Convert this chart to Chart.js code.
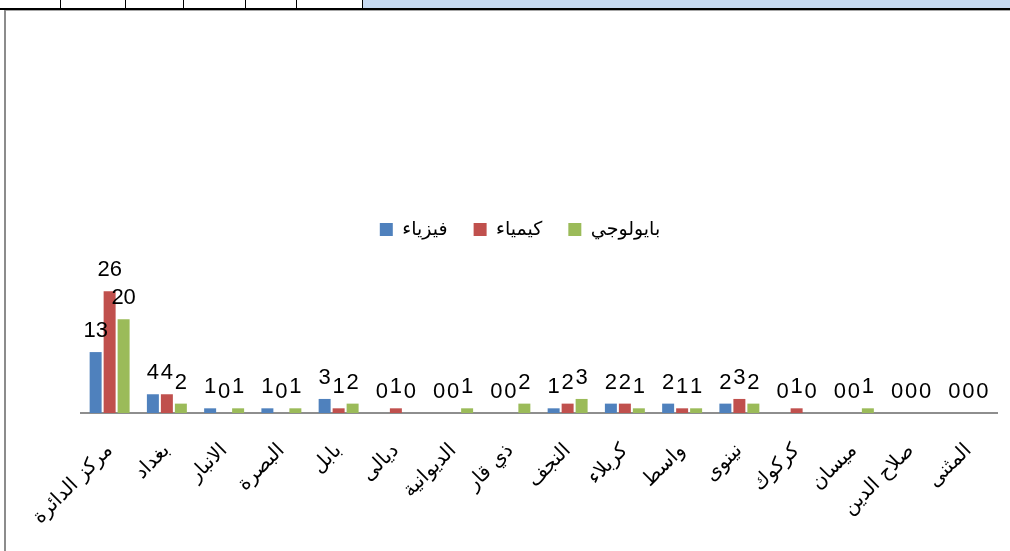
<!DOCTYPE html>
<html>
<head>
<meta charset="utf-8">
<script src="https://cdn.jsdelivr.net/npm/chart.js@4"></script>
<style>
  body { margin: 0; background: #fff; }
  #wrap { position: relative; width: 1010px; height: 551px; overflow: hidden; }
  #hdr { position: absolute; left: 0; top: 0; width: 1010px; height: 8px; }
  .cell { position: absolute; top: 0; height: 8px; border-left: 1px solid #000; }
  #blue { position: absolute; left: 363px; top: 0; width: 647px; height: 8px; background: #c6d9f1; }
  #hline { position: absolute; left: 0; top: 8px; width: 1010px; height: 2px; background: #000; }
  #gline { position: absolute; left: 4px; top: 10px; width: 1006px; height: 1px; background: #a6a6a6; }
  #vline { position: absolute; left: 4px; top: 10px; width: 2px; height: 541px; background: #8c8c8c; }
  canvas { position: absolute; left: 0; top: 0; }
</style>
</head>
<body>
<div id="wrap">
  <div id="hdr">
    <div id="blue"></div>
    <div class="cell" style="left:60px"></div>
    <div class="cell" style="left:125px"></div>
    <div class="cell" style="left:183px"></div>
    <div class="cell" style="left:245px"></div>
    <div class="cell" style="left:296px"></div>
    <div class="cell" style="left:362px"></div>
  </div>
  <div id="hline"></div>
  <div id="gline"></div>
  <div id="vline"></div>
  <canvas id="myChart" width="1010" height="551"></canvas>
</div>
<script>
const categories = ['مركز الدائرة', 'بغداد', 'الانبار', 'البصرة', 'بابل', 'ديالى', 'الديوانية', 'ذي قار',
  'النجف', 'كربلاء', 'واسط', 'نينوى', 'كركوك', 'ميسان', 'صلاح الدين', 'المثنى'];
const physics   = [13, 4, 1, 1, 3, 0, 0, 0, 1, 2, 2, 2, 0, 0, 0, 0];
const chemistry = [26, 4, 0, 0, 1, 1, 0, 0, 2, 2, 1, 3, 1, 0, 0, 0];
const biology   = [20, 2, 1, 1, 2, 0, 1, 2, 3, 1, 1, 2, 0, 1, 0, 0];
const seriesNames = ['فيزياء', 'كيمياء', 'بايولوجي'];

// numbers over each bar
const valueLabels = {
  id: 'valueLabels',
  afterDatasetsDraw(chart) {
    const ctx = chart.ctx;
    ctx.save();
    ctx.font = '22px "Liberation Sans", Arial, sans-serif';
    ctx.fillStyle = '#000';
    ctx.textAlign = 'center';
    ctx.textBaseline = 'alphabetic';
    chart.data.datasets.forEach((ds, i) => {
      chart.getDatasetMeta(i).data.forEach((bar, j) => {
        ctx.fillText(String(ds.data[j]), bar.x, bar.y - 15);
      });
    });
    ctx.restore();
  }
};

// legend sits a bit left of centre in the original
const legendShift = {
  id: 'legendShift',
  afterLayout(chart) {
    chart.legend.left -= 19;
    chart.legend.right -= 19;
  }
};

const ctx = document.getElementById('myChart');
new Chart(ctx, {
  type: 'bar',
  data: {
    labels: categories,
    datasets: [
      { label: seriesNames[0], data: physics, backgroundColor: '#4f81bd' },
      { label: seriesNames[1], data: chemistry, backgroundColor: '#c0504d' },
      { label: seriesNames[2], data: biology, backgroundColor: '#9bbb59' }
    ]
  },
  options: {
    responsive: false,
    animation: false,
    layout: { padding: { left: 81, right: 13, top: 194, bottom: 0 } },
    datasets: { bar: { categoryPercentage: 0.733, barPercentage: 0.857 } },
    plugins: {
      tooltip: { enabled: false },
      legend: {
        position: 'top',
        labels: {
          boxWidth: 13,
          boxHeight: 13,
          padding: 26,
          color: '#000',
          font: { size: 19, family: '"Liberation Sans", "DejaVu Sans", sans-serif' }
        }
      }
    },
    scales: {
      x: {
        grid: { display: false, drawTicks: false },
        border: { display: true, color: '#8e8e8e', width: 2 },
        ticks: {
          color: '#000',
          minRotation: 45,
          maxRotation: 45,
          autoSkip: false,
          padding: 26,
          font: { size: 20, family: '"DejaVu Sans", sans-serif' }
        },
        afterFit(s) { s.height = 138; s.paddingLeft = 0; s.paddingRight = 0; }
      },
      y: { display: false, min: 0, max: 35 }
    }
  },
  plugins: [valueLabels, legendShift]
});
</script>
</body>
</html>
